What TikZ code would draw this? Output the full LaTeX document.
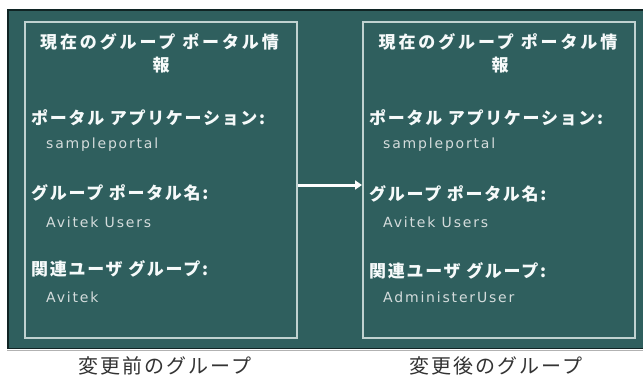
\documentclass[tikz,border=0pt]{standalone}
\usepackage{fontspec}
\usetikzlibrary{arrows.meta}
\newfontfamily\jptitle[LetterSpace=17]{Noto Sans CJK JP}
\newfontfamily\jphead[LetterSpace=10]{Noto Sans CJK JP}
\newfontfamily\jplab[LetterSpace=10]{Noto Sans CJK JP}
\newfontfamily\valfont[LetterSpace=13]{DejaVu Sans}
\definecolor{teal}{HTML}{2F5F5E}
\definecolor{tealedge}{HTML}{102424}
\definecolor{boxline}{HTML}{C0D2D0}
\definecolor{headtxt}{HTML}{F6FAFA}
\definecolor{valtxt}{HTML}{D4DCDC}
\definecolor{labtxt}{HTML}{333333}
\tikzset{
  panel/.style={draw=boxline, line width=2pt, minimum width=272pt, minimum height=316pt, inner sep=0pt},
  titletxt/.style={text=headtxt, font=\jptitle\bfseries\fontsize{17}{19}\selectfont, inner sep=0pt},
  headtxtst/.style={anchor=west, text=headtxt, font=\jphead\bfseries\fontsize{17}{19}\selectfont, inner sep=0pt},
  valtxtst/.style={anchor=west, text=valtxt, font=\valfont\fontsize{14}{16}\selectfont, inner sep=0pt},
  labtxtst/.style={text=labtxt, font=\jplab\fontsize{20}{22}\selectfont, inner sep=0pt},
  flow/.style={draw=white, line width=3pt, -{Triangle[length=7pt,width=9pt]}}
}
\begin{document}
\begin{tikzpicture}[x=1pt,y=-1pt]
\useasboundingbox (0,0) rectangle (643,381);
\fill[white] (0,0) rectangle (643,381);
% background panel
\fill[teal] (7,9) rectangle (643,349);
\draw[tealedge, line width=2pt] (8,349) -- (8,10) -- (643,10);
\draw[tealedge, line width=1.5pt] (7,348.5) -- (643,348.5);
\draw[gray!60, line width=1pt] (7,350.5) -- (643,350.5);
% boxes
\node[panel] (L) at (160.5,180) {};
\node[panel] (R) at (499,180) {};
% arrow
\draw[flow] ([yshift=-5pt]L.east) -- ([yshift=-5pt]R.west);
% left box text
\node[titletxt] (lt1) at (159.5,42) {現在のグループ ポータル情};
\node[titletxt] (lt2) at (161,65) {報};
\node[headtxtst] (lh1) at (31,118) {ポータル アプリケーション:};
\node[valtxtst] (lv1) at (46,145) {sampleportal};
\node[headtxtst] (lh2) at (31,193) {グループ ポータル名:};
\node[valtxtst] (lv2) at (46,222) {Avitek Users};
\node[headtxtst] (lh3) at (31,269) {関連ユーザ グループ:};
\node[valtxtst] (lv3) at (46,297) {Avitek};
% right box text
\node[titletxt] (rt1) at (498,42) {現在のグループ ポータル情};
\node[titletxt] (rt2) at (500,65) {報};
\node[headtxtst] (rh1) at (369,118) {ポータル アプリケーション:};
\node[valtxtst] (rv1) at (383,145) {sampleportal};
\node[headtxtst] (rh2) at (369,194) {グループ ポータル名:};
\node[valtxtst] (rv2) at (383,222) {Avitek Users};
\node[headtxtst] (rh3) at (369,271) {関連ユーザ グループ:};
\node[valtxtst] (rv3) at (383,297) {AdministerUser};
% captions
\node[labtxtst] (lc) at (165,366) {変更前のグループ};
\node[labtxtst] (rc) at (496,366) {変更後のグループ};
\end{tikzpicture}
\end{document}
